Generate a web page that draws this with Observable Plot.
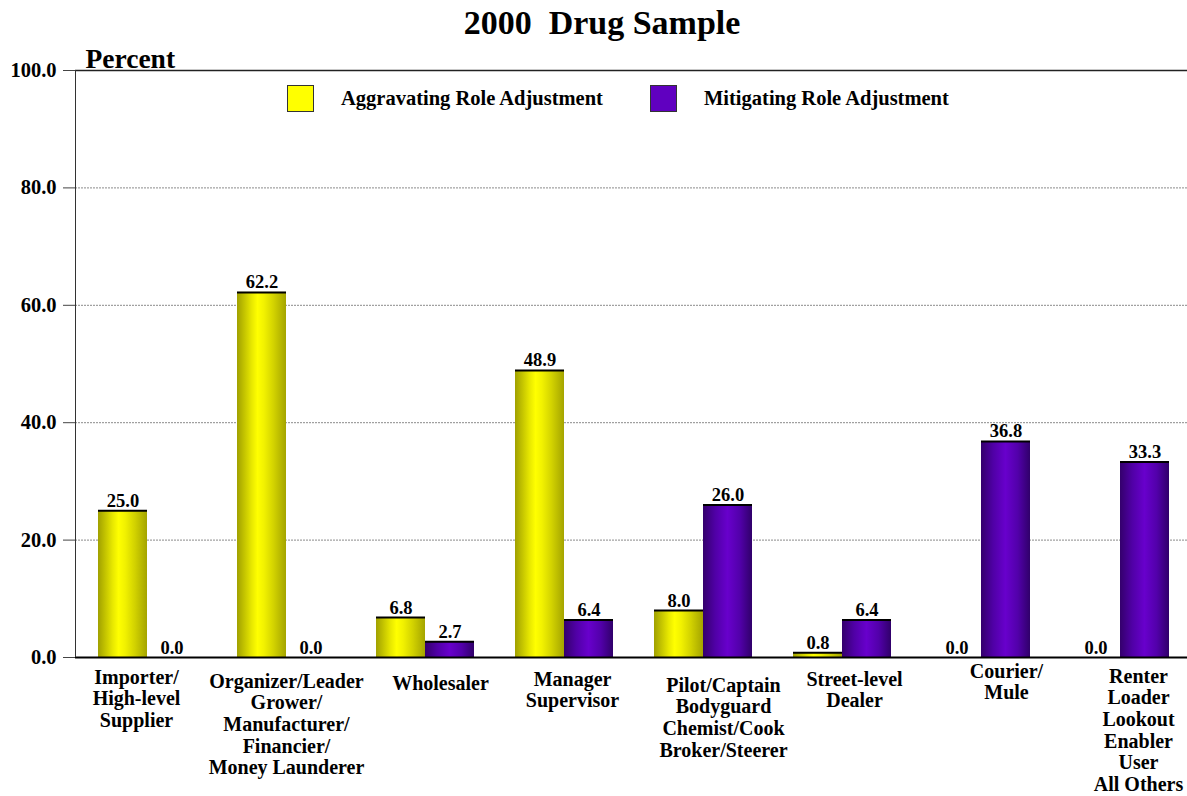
<!DOCTYPE html>
<html>
<head>
<meta charset="utf-8">
<script src="https://cdn.jsdelivr.net/npm/d3@7"></script>
<script src="https://cdn.jsdelivr.net/npm/@observablehq/plot@0.6"></script>
<style>
  html, body { margin: 0; padding: 0; background: #fff; overflow: hidden; }
  body { font-family: "Liberation Serif", "Times New Roman", serif; position: relative; width: 1187px; height: 796px; }
  #title { height: 45px; width: 1204px; text-align: center; font-weight: bold; font-size: 34px; line-height: 36px; padding-top: 5px; box-sizing: border-box; white-space: pre; }
  #chart svg { max-width: none !important; display: block; }
  .legend { position: absolute; top: 85px; height: 27px; display: flex; align-items: center; font-weight: bold; font-size: 20.5px; white-space: nowrap; }
  .sw { width: 25px; height: 25px; border: 1px solid #333; margin-right: 27px; }
</style>
</head>
<body>
<div id="title">2000  Drug Sample</div>
<div id="chart"></div>
<div class="legend" style="left:287px"><div class="sw" style="background:#ffff00"></div><span>Aggravating Role Adjustment</span></div>
<div class="legend" style="left:650px"><div class="sw" style="background:#6000c0"></div><span>Mitigating Role Adjustment</span></div>
<script>
const categories = [
  "Importer/\nHigh-level\nSupplier",
  "Organizer/Leader\nGrower/\nManufacturer/\nFinancier/\nMoney Launderer",
  "Wholesaler",
  "Manager\nSupervisor",
  "Pilot/Captain\nBodyguard\nChemist/Cook\nBroker/Steerer",
  "Street-level\nDealer",
  "Courier/\nMule",
  "Renter\nLoader\nLookout\nEnabler\nUser\nAll Others"
];
const aggravating = [25.0, 62.2, 6.8, 48.9, 8.0, 0.8, 0.0, 0.0];
const mitigating  = [0.0, 0.0, 2.7, 6.4, 26.0, 6.4, 36.8, 33.3];
const yTicks = [0, 20, 40, 60, 80, 100];
const gridTicks = [20, 40, 60, 80];
const seriesNames = ["Aggravating Role Adjustment", "Mitigating Role Adjustment"];

// layout nudges of the category labels (as placed in the original chart)
const labelDx = [-11, 0, 15, 8, 20, 12, 25, 18];
const labelDy = [-2, 2, 4, 0, 6, 0, -8, -3];

const aggRows = categories.map((c, i) => ({category: c, value: aggravating[i], series: seriesNames[0]}));
const mitRows = categories.map((c, i) => ({category: c, value: mitigating[i], series: seriesNames[1]}));

const half = 49;
const tickStroke = d => d.value === 0 ? "#bbbbbb" : "#000";
const tickWidth = d => d.value === 0 ? 1 : 2;

const labelMarks = categories.map((c, i) =>
  Plot.text([c], {x: d => d, text: d => d, frameAnchor: "bottom", lineAnchor: "top", dx: labelDx[i], dy: 13 + labelDy[i], fontSize: 20, fontWeight: "bold", lineHeight: 1.08})
);

const svg = Plot.plot({
  width: 1192,
  height: 751,
  marginTop: 25,
  marginLeft: 75,
  marginRight: 0,
  marginBottom: 139,
  style: {fontFamily: "'Liberation Serif', 'Times New Roman', serif", fontWeight: "bold", color: "#000", background: "#fff", overflow: "visible", maxWidth: "none"},
  x: {domain: categories, paddingInner: 0.298, paddingOuter: 0.149, axis: null},
  y: {domain: [0, 100], axis: null},
  marks: [
    Plot.ruleY(gridTicks, {stroke: "#8a8a8a", strokeDasharray: "2,1", strokeWidth: 1}),
    Plot.barY(aggRows, {x: "category", y: "value", fill: "url(#gradY)", insetRight: half}),
    Plot.barY(mitRows, {x: "category", y: "value", fill: "url(#gradP)", insetLeft: half}),
    Plot.tickY(aggRows, {x: "category", y: "value", stroke: tickStroke, strokeWidth: tickWidth, insetRight: half}),
    Plot.tickY(mitRows, {x: "category", y: "value", stroke: tickStroke, strokeWidth: tickWidth, insetLeft: half}),
    Plot.text(aggRows, {x: "category", y: "value", text: d => d.value.toFixed(1), dx: -24.5, dy: -4, lineAnchor: "bottom", fontSize: 18.5, fontWeight: "bold"}),
    Plot.text(mitRows, {x: "category", y: "value", text: d => d.value.toFixed(1), dx: 24.5, dy: -4, lineAnchor: "bottom", fontSize: 18.5, fontWeight: "bold"}),
    Plot.ruleY([100], {stroke: "#222", strokeWidth: 1.5}),
    Plot.ruleY([0], {stroke: "#000", strokeWidth: 2}),
    Plot.axisY({ticks: yTicks, tickFormat: d => d.toFixed(1), tickSize: 12, tickPadding: 7, fontSize: 20.5, fontWeight: "bold", stroke: "#444", label: null}),
    ...labelMarks,
    Plot.text(["Percent"], {frameAnchor: "top-left", dx: 10, dy: -3, lineAnchor: "bottom", textAnchor: "start", fontSize: 27.5, fontWeight: "bold"})
  ]
});

// left axis line
const ns = "http://www.w3.org/2000/svg";
const line = document.createElementNS(ns, "line");
line.setAttribute("x1", 75.5); line.setAttribute("x2", 75.5);
line.setAttribute("y1", 25); line.setAttribute("y2", 612);
line.setAttribute("stroke", "#333"); line.setAttribute("stroke-width", 1);
svg.appendChild(line);

// gradients for cylinder shading
const defs = document.createElementNS(ns, "defs");
function grad(id, stops) {
  const g = document.createElementNS(ns, "linearGradient");
  g.setAttribute("id", id);
  g.setAttribute("x1", "0"); g.setAttribute("x2", "1"); g.setAttribute("y1", "0"); g.setAttribute("y2", "0");
  for (const [o, c] of stops) {
    const s = document.createElementNS(ns, "stop");
    s.setAttribute("offset", o); s.setAttribute("stop-color", c);
    g.appendChild(s);
  }
  defs.appendChild(g);
}
grad("gradY", [[0, "#a0a000"], [0.15, "#c4c400"], [0.3, "#e8e800"], [0.42, "#ffff00"], [0.55, "#f2f200"], [0.75, "#d2d200"], [1, "#a4a400"]]);
grad("gradP", [[0, "#34006c"], [0.25, "#5000a6"], [0.5, "#6800cc"], [0.75, "#5200aa"], [1, "#30006a"]]);
svg.insertBefore(defs, svg.firstChild);

document.getElementById("chart").appendChild(svg);
</script>
</body>
</html>
